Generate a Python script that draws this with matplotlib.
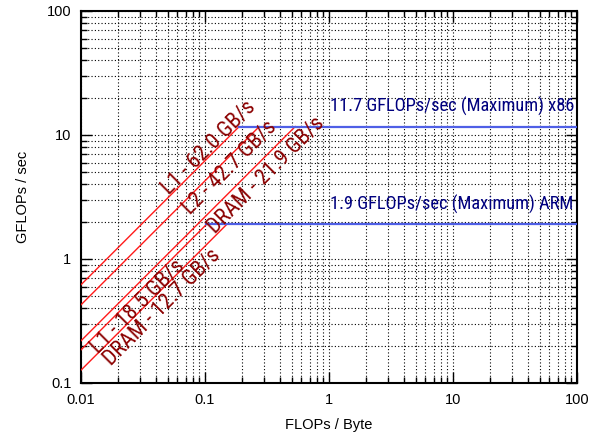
import matplotlib
matplotlib.use("Agg")
import matplotlib.pyplot as plt
from matplotlib import font_manager
import numpy as np

# roofline data: (label, GB/s, peak GFLOPs of that machine)
ridge_labels = ["L1 - 62.0 GB/s", "L2 - 42.7 GB/s", "DRAM - 21.9 GB/s",
                "L1 - 18.5 GB/s", "DRAM - 12.7 GB/s"]
bandwidths = [62.0, 42.7, 21.9, 18.5, 12.7]
bw_peaks = [11.7, 11.7, 11.7, 1.9, 1.9]
# where each rotated label is centred (FLOPs/Byte, GFLOPs/sec)
label_x = [0.1076, 0.159, 0.310, 0.0286, 0.0454]
label_y = [7.94, 5.47, 4.71, 0.411, 0.407]

peak_values = [11.7, 1.9]
peak_labels = ["11.7 GFLOPs/sec (Maximum) x86", "1.9 GFLOPs/sec (Maximum) ARM"]
peak_start = [11.7 / 62.0, 1.9 / 18.5]

xticks = [0.01, 0.1, 1, 10, 100]
yticks = [0.1, 1, 10, 100]

# gnuplot drew the annotations in a narrow Helvetica
names = {f.name for f in font_manager.fontManager.ttflist}
if "Roboto Condensed" in names:
    narrow, red_size, blue_size = "Roboto Condensed", 15.8, 13.2
else:
    narrow, red_size, blue_size = "Liberation Sans", 13, 11.5
plt.rcParams["font.family"] = ["Liberation Sans", "DejaVu Sans"]

fig = plt.figure(figsize=(6.02, 4.33), dpi=100)
ax = fig.add_axes([81 / 602, 50 / 433, 496 / 602, 372 / 433])
ax.set_xscale("log")
ax.set_yscale("log")
ax.set_xlim(0.01, 100)
ax.set_ylim(0.1, 100)

ax.grid(True, which="both", color="black", ls=(0, (1, 2)), lw=0.8)
ax.set_axisbelow(True)

for bw, pk in zip(bandwidths, bw_peaks):
    xs = np.array([0.01, pk / bw])
    ax.plot(xs, bw * xs, color="#ff1a1a", lw=1.0, zorder=3)

for pk, x0 in zip(peak_values, peak_start):
    ax.plot([x0, 100], [pk, pk], color="#4f5fe6", lw=1.6, zorder=3)

# angle of a slope-1 line in display space
p0 = ax.transData.transform((0.01, 0.1))
p1 = ax.transData.transform((100, 1000))
angle = np.degrees(np.arctan2(p1[1] - p0[1], p1[0] - p0[0]))

for lab, lx, ly in zip(ridge_labels, label_x, label_y):
    ax.text(lx, ly, lab, rotation=angle, rotation_mode="anchor",
            ha="center", va="center", color="#8b0000",
            fontsize=red_size, family=narrow, zorder=4)

for lab, pk in zip(peak_labels, peak_values):
    ax.annotate(lab, xy=(1.02, pk), xytext=(0, 7.5), textcoords="offset points",
                ha="left", va="bottom", color="#00007f",
                fontsize=blue_size, family=narrow, zorder=4)

ax.set_xticks(xticks)
ax.set_xticklabels(["0.01", "0.1", "1", "10", "100"])
ax.set_yticks(yticks)
ax.set_yticklabels(["0.1", "1", "10", "100"])
ax.tick_params(which="both", direction="in", top=True, right=True,
               labelsize=10.5, width=1.0, pad=7)
ax.tick_params(which="major", length=8)
ax.tick_params(which="minor", length=4)
for s in ax.spines.values():
    s.set_linewidth(1.5)

ax.set_xlabel("FLOPs / Byte", fontsize=10.5, labelpad=8)
ax.set_ylabel("GFLOPs / sec", fontsize=10.5, labelpad=12)

fig.savefig("out.png", dpi=100)
